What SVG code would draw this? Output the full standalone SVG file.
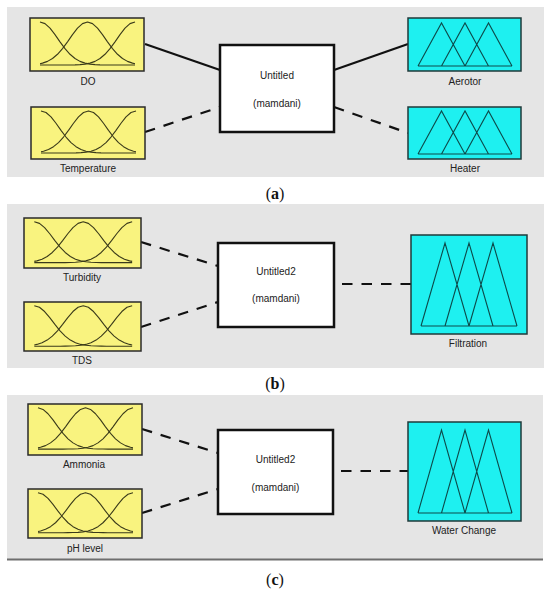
<svg xmlns="http://www.w3.org/2000/svg" width="550" height="592" viewBox="0 0 550 592">
<style>
.panel{fill:#e5e5e5}
.inbox{fill:#f9f37f;stroke:#2a2a2a;stroke-width:1.5}
.outbox{fill:#1ef0f0;stroke:#1f3a3a;stroke-width:1.5}
.sys{fill:#ffffff;stroke:#111;stroke-width:2.5}
.mf{fill:none;stroke:#3a3a1a;stroke-width:1.1;stroke-linejoin:round;vector-effect:non-scaling-stroke}
.tri{fill:none;stroke:#0d4a4a;stroke-width:1.1;stroke-linejoin:miter}
.lbl{font-family:"Liberation Sans",Arial,sans-serif;font-size:10px;fill:#222;text-anchor:middle}
.cap{font-family:"Liberation Serif","Times New Roman",serif;font-size:16px;fill:#111;text-anchor:middle}
.solid{stroke:#111;stroke-width:2.2;fill:none}
.dash{stroke:#111;stroke-width:2.2;fill:none;stroke-dasharray:10.5 9}
</style>
<defs>
<g id="gauss">
<polyline class="mf" points="10,4 15,5.63 20,10.15 25,16.6 30,23.82 35,30.62 40,36.29 45,40.51 50,43.36 55,45.11 60,46.09 65,46.6 70,46.83 75,46.94 80,47 105,47"/>
<polyline class="mf" points="10,45.67 12.5,45.11 17.5,43.36 22.5,40.51 27.5,36.29 32.5,30.62 37.5,23.82 42.5,16.6 47.5,10.15 52.5,5.63 57.5,4 62.5,5.63 67.5,10.15 72.5,16.6 77.5,23.82 82.5,30.62 87.5,36.29 92.5,40.51 97.5,43.36 102.5,45.11 105,45.67"/>
<polyline class="mf" points="105,4 100,5.63 95,10.15 90,16.6 85,23.82 80,30.62 75,36.29 70,40.51 65,43.36 60,45.11 55,46.09 50,46.6 45,46.83 40,46.94 35,47 10,47"/>
</g>
<path id="tri3" class="tri" d="M10,48 L33.5,5 L57,48 M33.5,48 L57,5 L80.5,48 M57,48 L80.5,5 L104,48 M10,48 H104"/>
</defs>

<!-- Panels -->
<rect class="panel" x="7" y="7" width="537" height="170"/>
<rect class="panel" x="7" y="204" width="537" height="164"/>
<rect class="panel" x="7" y="395" width="536" height="164"/>
<line x1="7" y1="559.5" x2="543" y2="559.5" stroke="#6e6e6e" stroke-width="2"/>

<!-- Connectors -->
<g id="connectors">
<line class="solid" x1="145" y1="44" x2="220" y2="70"/>
<line class="dash" x1="145" y1="132" x2="220" y2="107"/>
<line class="solid" x1="334" y1="70" x2="408" y2="44"/>
<line class="dash" x1="334" y1="107" x2="408" y2="133"/>
<line class="dash" x1="141" y1="242" x2="218" y2="266"/>
<line class="dash" x1="141" y1="327" x2="218" y2="302"/>
<line class="dash" x1="342" y1="284" x2="411" y2="284"/>
<line class="dash" x1="142" y1="429" x2="218" y2="453"/>
<line class="dash" x1="142" y1="513" x2="218" y2="489"/>
<line class="dash" x1="341" y1="471" x2="408" y2="471"/>
</g>

<!-- Panel (a) -->
<g id="DO">
<rect class="inbox" x="30" y="18" width="114" height="53"/>
<use href="#gauss" transform="translate(30,18)"/>
<text class="lbl" x="88" y="85">DO</text>
</g>
<g id="Temperature">
<rect class="inbox" x="31" y="107" width="114" height="52"/>
<use href="#gauss" transform="translate(31,107) scale(1,0.98)"/>
<text class="lbl" x="88" y="172">Temperature</text>
</g>
<g id="Untitled">
<rect class="sys" x="220" y="45" width="114" height="87"/>
<text class="lbl" x="277" y="79">Untitled</text>
<text class="lbl" x="277" y="107">(mamdani)</text>
</g>
<g id="Aerotor">
<rect class="outbox" x="408" y="18" width="113" height="53"/>
<use href="#tri3" transform="translate(408,18)"/>
<text class="lbl" x="465" y="85">Aerotor</text>
</g>
<g id="Heater">
<rect class="outbox" x="408" y="107" width="113" height="52"/>
<use href="#tri3" transform="translate(408,106)"/>
<text class="lbl" x="465" y="172">Heater</text>
</g>
<text class="cap" x="275" y="199">(<tspan font-weight="bold">a</tspan>)</text>

<!-- Panel (b) -->
<g id="Turbidity">
<rect class="inbox" x="24" y="218" width="117" height="50"/>
<use href="#gauss" transform="translate(24,218) scale(1.03,0.95)"/>
<text class="lbl" x="82" y="281">Turbidity</text>
</g>
<g id="TDS">
<rect class="inbox" x="24" y="302" width="117" height="49"/>
<use href="#gauss" transform="translate(24,302) scale(1.03,0.94)"/>
<text class="lbl" x="82" y="364">TDS</text>
</g>
<g id="Untitled2b">
<rect class="sys" x="218" y="243" width="116" height="84"/>
<text class="lbl" x="276" y="275">Untitled2</text>
<text class="lbl" x="276" y="302">(mamdani)</text>
</g>
<g id="Filtration">
<rect class="outbox" x="411" y="235" width="116" height="99"/>
<path class="tri" d="M421,326 L445,243 L469,326 M445,326 L469,243 L493,326 M469,326 L493,243 L517,326 M421,326 H517"/>
<text class="lbl" x="468" y="347">Filtration</text>
</g>
<text class="cap" x="275" y="389">(<tspan font-weight="bold">b</tspan>)</text>

<!-- Panel (c) -->
<g id="Ammonia">
<rect class="inbox" x="28" y="404" width="114" height="51"/>
<use href="#gauss" transform="translate(28,404) scale(1,0.96)"/>
<text class="lbl" x="84" y="468">Ammonia</text>
</g>
<g id="pHlevel">
<rect class="inbox" x="28" y="489" width="114" height="49"/>
<use href="#gauss" transform="translate(28,489) scale(1,0.93)"/>
<text class="lbl" x="85" y="552">pH level</text>
</g>
<g id="Untitled2c">
<rect class="sys" x="218" y="430" width="115" height="84"/>
<text class="lbl" x="275.5" y="463">Untitled2</text>
<text class="lbl" x="275.5" y="491">(mamdani)</text>
</g>
<g id="WaterChange">
<rect class="outbox" x="408" y="422" width="113" height="99"/>
<path class="tri" d="M418,513 L441.5,430 L465,513 M441.5,513 L465,430 L488.5,513 M465,513 L488.5,430 L512,513 M418,513 H512"/>
<text class="lbl" x="464" y="534">Water Change</text>
</g>
<text class="cap" x="275" y="585">(<tspan font-weight="bold">c</tspan>)</text>
</svg>
